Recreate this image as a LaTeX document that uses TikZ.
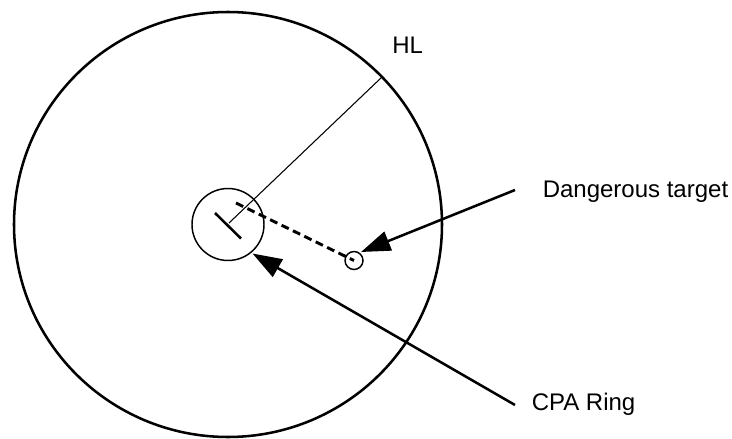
\documentclass[tikz,border=0pt]{standalone}
\usepackage{fontspec}
\setmainfont{Liberation Sans}
\usetikzlibrary{arrows.meta}
\begin{document}
\begin{tikzpicture}[x=0.75pt,y=-0.75pt,
  thick line/.style={line width=1.9pt},
  bigarrow/.style={line width=1.9pt,-{Triangle[length=22pt,width=15pt]}},
  lbl/.style={font=\fontsize{18pt}{20pt}\selectfont,inner sep=0pt,anchor=base west}]
\useasboundingbox (0,0) rectangle (732,439);
% radar range circle
\coordinate (own) at (228,224.5);
\draw[thick line] (own) ellipse [x radius=214, y radius=212.5];
% CPA ring
\node[draw,circle,minimum size=54pt,inner sep=0pt,line width=1.1pt] (cpa) at (own) {};
% heading line
\coordinate (hlend) at (382,77);
\draw[line width=0.8pt] (229,223) -- (hlend);
% own ship bar
\draw[thick line] (215,213) -- (241,238.5);
% target
\node[draw,circle,minimum size=13.5pt,inner sep=0pt,line width=1.1pt] (tgt) at (354,260.5) {};
\coordinate (dstart) at (236,203);
\draw[line width=2.2pt,dash pattern=on 6pt off 3.5pt] (dstart) -- (tgt.center);
% labels
\node[lbl] (hl) at (392,53) {HL};
\node[lbl] (dt) at (542.5,197.5) {Dangerous target};
\node[lbl] (cr) at (531.5,410.5) {CPA Ring};
% arrows
\coordinate (dtail) at (515,190);
\coordinate (dtip) at (361,252);
\draw[bigarrow] (dtail) -- (dtip);
\coordinate (ctail) at (515,405);
\coordinate (ctip) at (252.5,253.5);
\draw[bigarrow] (ctail) -- (ctip);
\end{tikzpicture}
\end{document}
